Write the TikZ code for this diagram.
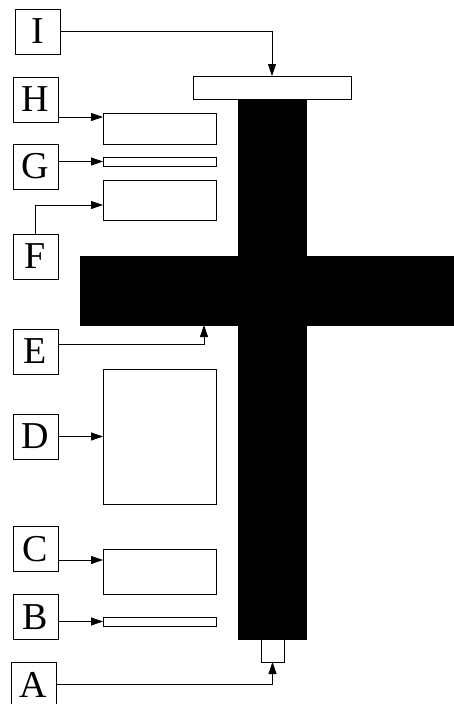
\documentclass[tikz,border=0pt]{standalone}
\usepackage{fontspec}
\setmainfont{Liberation Serif}
\usetikzlibrary{arrows.meta}
\tikzset{
  lbl/.style={draw, line width=0.8pt, minimum width=45pt, minimum height=45pt, inner sep=0pt, outer sep=0pt, font=\fontsize{38}{38}\selectfont},
  part/.style={draw, line width=0.8pt, inner sep=0pt, outer sep=0pt, anchor=north west},
  solid part/.style={part, fill=black},
  arr/.style={line width=0.8pt, -{Triangle[length=12pt,width=8pt]}}
}
\begin{document}
\begin{tikzpicture}[x=1pt,y=-1pt]
\useasboundingbox (0,0) rectangle (454,704);
% parts
\node[part, minimum width=158pt, minimum height=23pt] (plate) at (193,76) {};
\node[solid part, minimum width=68pt, minimum height=540pt] (vbar) at (238,99) {};
\node[solid part, minimum width=376pt, minimum height=69pt] (hbar) at (80,256) {};
\node[part, minimum width=113pt, minimum height=31pt] (Hrect) at (103,113) {};
\node[part, minimum width=113pt, minimum height=9pt] (Grect) at (103,157) {};
\node[part, minimum width=113pt, minimum height=40pt] (Frect) at (103,180) {};
\node[part, minimum width=113pt, minimum height=135pt] (Drect) at (103,369) {};
\node[part, minimum width=113pt, minimum height=45pt] (Crect) at (103,549) {};
\node[part, minimum width=113pt, minimum height=9pt] (Brect) at (103,617) {};
\node[part, minimum width=23pt, minimum height=23pt] (small) at (261,639) {};
% labels
\node[lbl] (I) at (37.5,31.5) {I};
\node[lbl] (H) at (35.5,99.5) {H};
\node[lbl] (G) at (35.5,166.5) {G};
\node[lbl] (F) at (35.5,256.5) {F};
\node[lbl] (E) at (35.5,351.5) {E};
\node[lbl] (D) at (35.5,436.5) {D};
\node[lbl] (C) at (35.5,549) {C};
\node[lbl] (B) at (35.5,617) {B};
\node[lbl] (A) at (33.5,684.5) {A};
% connectors
\draw[arr] (I.east) -| (plate.north);
\draw[arr] (H.east |- 0,117) -- (Hrect.west |- 0,117);
\draw[arr] (G.east |- Grect.west) -- (Grect.west);
\draw[arr] (F.north) |- (Frect.west |- 0,205);
\draw[arr] (E.east |- 0,344) -| (204,0 |- hbar.south);
\draw[arr] (D.east) -- (Drect.west |- D.east);
\draw[arr] (C.east |- 0,560) -- (Crect.west |- 0,560);
\draw[arr] (B.east |- Brect.west) -- (Brect.west);
\draw[arr] (A.east) -| (small.south);
\end{tikzpicture}
\end{document}
